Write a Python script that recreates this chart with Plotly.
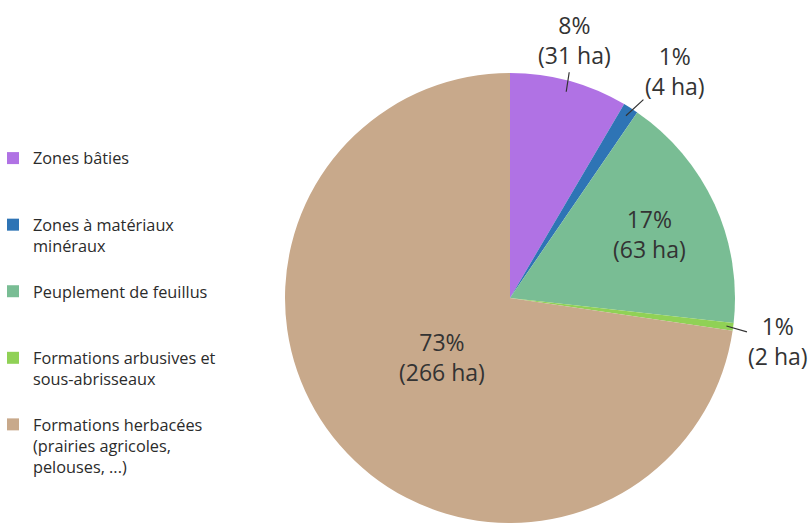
import math
import plotly.graph_objects as go

# Land-cover categories (legend text, with line breaks) and surfaces in hectares
categories = [
    "Zones bâties",
    "Zones à matériaux<br>minéraux",
    "Peuplement de feuillus",
    "Formations arbusives et<br>sous-abrisseaux",
    "Formations herbacées<br>(prairies agricoles,<br>pelouses, ...)",
]
surfaces_ha = [31, 4, 63, 2, 266]
colors = ["#B072E4", "#2E74B5", "#79BD94", "#90D156", "#C8A98B"]

W, H = 810, 523
M_TOP = 73
PLOT_H = H - M_TOP

# Pie geometry in pixels
cx, r = 510, 225
cy = M_TOP + PLOT_H / 2

# Data-label placement per slice: (anchor radius as fraction of r, text offset x, text offset y, leader line)
label_style = [
    (0.95, 8, -52, True),
    (0.96, 49, -45, True),
    (0.68, 0, 0, False),
    (0.97, 52, 15, True),
    (0.40, 0, 0, False),
]

# Pad each legend entry to three lines so the entries are evenly spaced
def pad_lines(label, n=3):
    count = label.count("<br>") + 1
    return label + "<br>&nbsp;" * (n - count)

legend_labels = [pad_lines(c) for c in categories]

fig = go.Figure(
    go.Pie(
        labels=legend_labels,
        values=surfaces_ha,
        sort=False,
        direction="clockwise",
        rotation=0,
        marker=dict(colors=colors, line=dict(width=0)),
        textinfo="none",
        hoverinfo="label+value+percent",
        domain=dict(x=[(cx - r) / W, (cx + r) / W], y=[0, 1]),
        showlegend=True,
    )
)

# Percentage / surface labels placed on each slice's bisector
total = sum(surfaces_ha)
cumulative = 0
for value, (frac, ax, ay, leader) in zip(surfaces_ha, label_style):
    mid = (cumulative + value / 2) / total * 2 * math.pi
    cumulative += value
    px = cx + frac * r * math.sin(mid)
    py = cy - frac * r * math.cos(mid)
    fig.add_annotation(
        x=px / W,
        y=1 - (py - M_TOP) / PLOT_H,
        xref="paper",
        yref="paper",
        xanchor="center",
        yanchor="middle",
        text=f"{value / total:.0%}<br>({value} ha)",
        showarrow=leader,
        arrowhead=0,
        arrowwidth=1.2,
        arrowcolor="#333333",
        standoff=0,
        ax=ax if leader else None,
        ay=ay if leader else None,
        font=dict(family="Open Sans", size=23, color="#333333"),
        align="center",
    )

fig.update_layout(
    width=W,
    height=H,
    margin=dict(l=0, r=0, t=M_TOP, b=0, autoexpand=False),
    paper_bgcolor="white",
    plot_bgcolor="white",
    font=dict(family="Open Sans", color="#333333"),
    legend=dict(
        x=-7 / W,
        xanchor="left",
        y=1 - (141 - M_TOP) / PLOT_H,
        yanchor="top",
        valign="top",
        font=dict(family="Open Sans", size=16.3, color="#2b2b2b"),
        itemwidth=30,
        bgcolor="rgba(0,0,0,0)",
    ),
)

fig.write_html("out.html")
